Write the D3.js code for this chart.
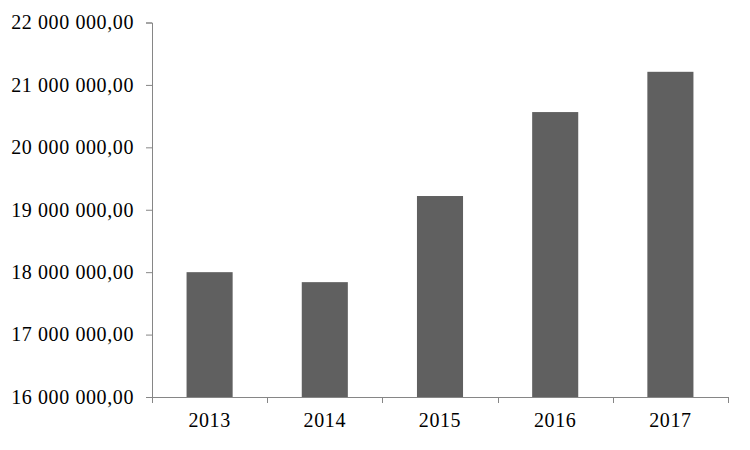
<!DOCTYPE html>
<html>
<head>
<meta charset="utf-8">
<script src="https://cdn.jsdelivr.net/npm/d3@7.9.0/dist/d3.min.js"></script>
<style>
  body { margin: 0; background: #fff; }
  svg text { font-family: "Liberation Serif", "DejaVu Serif", serif; fill: #000; letter-spacing: 0.6px; }
</style>
</head>
<body>
<svg id="chart" width="750" height="450"></svg>
<script>
const years = ['2013', '2014', '2015', '2016', '2017'];
const values = [18000000, 17840000, 19220000, 20565000, 21210000];
const yTicks = [16000000, 17000000, 18000000, 19000000, 20000000, 21000000, 22000000];

const margin = { top: 22.5, right: 22, bottom: 53, left: 152 };
const width = 750, height = 450;

const svg = d3.select('#chart');

const locale = d3.formatLocale({ decimal: ',', thousands: '\u00a0', grouping: [3], currency: ['', ''] });
const fmt = locale.format(',.2f');

const x = d3.scaleBand()
  .domain(years)
  .range([margin.left, width - margin.right])
  .paddingInner(0.6)
  .paddingOuter(0.3);

const y = d3.scaleLinear()
  .domain([16000000, 22000000])
  .range([height - margin.bottom, margin.top]);

const axisColor = '#868686';

// bars
svg.selectAll('rect.bar')
  .data(years)
  .join('rect')
  .attr('class', 'bar')
  .attr('x', d => x(d))
  .attr('width', x.bandwidth())
  .attr('y', (d, i) => y(values[i]))
  .attr('height', (d, i) => y(16000000) - y(values[i]))
  .attr('fill', '#606060');

// y axis
const yAxis = svg.append('g')
  .attr('transform', `translate(${margin.left},0)`)
  .call(d3.axisLeft(y).tickValues(yTicks).tickFormat(fmt).tickSize(6).tickPadding(12));
yAxis.select('.domain').attr('stroke', axisColor);
yAxis.selectAll('.tick line').attr('stroke', axisColor);
yAxis.selectAll('.tick text').attr('font-size', 20);

// x axis
const base = y(16000000);
const xAxis = svg.append('g')
  .attr('transform', `translate(0,${base})`)
  .call(d3.axisBottom(x).tickSize(0).tickPadding(16));
xAxis.select('.domain').remove();
xAxis.selectAll('.tick text').attr('font-size', 20);

xAxis.append('line')
  .attr('x1', margin.left).attr('x2', width - margin.right)
  .attr('y1', 0.5).attr('y2', 0.5)
  .attr('stroke', axisColor);

const gap = (x.step() - x.bandwidth()) / 2;
const bounds = years.map(d => x(d) - gap).concat([x(years[years.length - 1]) + x.bandwidth() + gap]);
xAxis.selectAll('line.bound')
  .data(bounds)
  .join('line')
  .attr('class', 'bound')
  .attr('x1', d => Math.round(d) + 0.5).attr('x2', d => Math.round(d) + 0.5)
  .attr('y1', 0).attr('y2', 6)
  .attr('stroke', axisColor);
</script>
</body>
</html>
